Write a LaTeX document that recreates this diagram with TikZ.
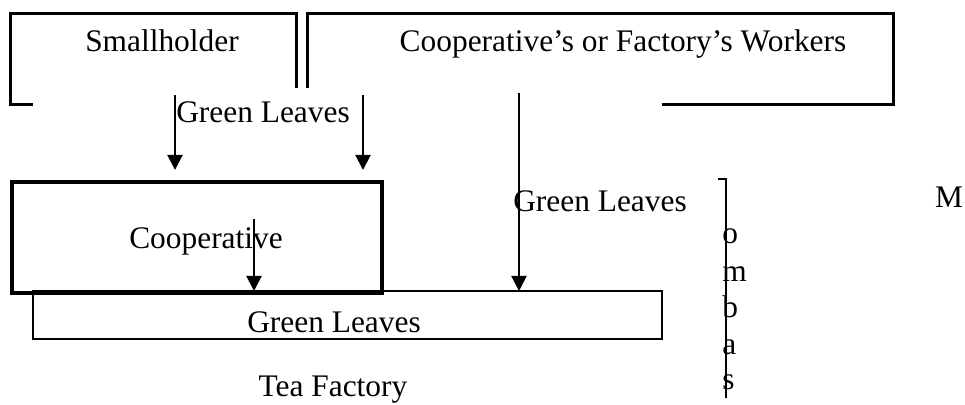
\documentclass[tikz,border=0pt]{standalone}
\usepackage{fontspec}
\setmainfont{Liberation Serif}
\usetikzlibrary{arrows.meta}
\begin{document}
\begin{tikzpicture}[x=0.5pt,y=-0.5pt,
  lbl/.style={inner sep=0pt, anchor=base, font=\fontsize{15.7}{18}\selectfont},
  letter/.style={inner sep=0pt, anchor=base west, font=\fontsize{15.7}{18}\selectfont},
  thickbox/.style={line width=1.5pt},
  coopbox/.style={draw, line width=1.7pt, inner sep=0pt, minimum width=185pt, minimum height=55.5pt},
  thinbox/.style={draw, line width=0.6pt, inner sep=0pt, minimum width=314.5pt, minimum height=24pt},
  flow/.style={line width=1pt, -{Triangle[length=7.5pt,width=7.5pt]}},
  rule/.style={line width=1pt},
]
\useasboundingbox (0,0) rectangle (965,405);
% open boxes at the top
\draw[thickbox] (33,105) -- (10,105) -- (10,14) -- (296,14) -- (296,88);
\draw[thickbox] (307,88) -- (307,14) -- (893,14) -- (893,105) -- (662,105);
\node[lbl] (small) at (162,52) {Smallholder};
\node[lbl] (workers) at (623,52) {Cooperative’s or Factory’s Workers};
\node[lbl] (gl1) at (263,123) {Green Leaves};
% boxes
\node[thinbox] (glbox) at (347.5,315) {};
\node[coopbox] (coop) at (197,237.5) {};
\node[lbl] (cooptext) at (206,249) {Cooperative};
\node[lbl] (gl3) at (334,333) {Green Leaves};
\node[lbl] (gl2) at (600,212) {Green Leaves};
\node[lbl] (tea) at (333,397) {Tea Factory};
% arrows
\coordinate (a1s) at (175,95); \coordinate (a1e) at (175,170);
\coordinate (a2s) at (363,95); \coordinate (a2e) at (363,170);
\coordinate (a3s) at (519,93); \coordinate (a3e) at (519,291);
\coordinate (a4s) at (254,219); \coordinate (a4e) at (254,291);
\draw[flow] (a1s) -- (a1e);
\draw[flow] (a2s) -- (a2e);
\draw[flow] (a3s) -- (a3e);
\draw[flow] (a4s) -- (a4e);
% Mombasa
\coordinate (mt) at (718,179); \coordinate (mc) at (726,179); \coordinate (mb) at (726,398);
\draw[rule] (mt) -- (mc) -- (mb);
\node[lbl] (bigm) at (949,208) {M};
\node[letter] (lo) at (722,244) {o};
\node[letter] (lm) at (722,282) {m};
\node[letter] (lb) at (722,318) {b};
\node[letter] (la) at (722,355) {a};
\node[letter] (ls) at (722,390) {s};
\end{tikzpicture}
\end{document}
